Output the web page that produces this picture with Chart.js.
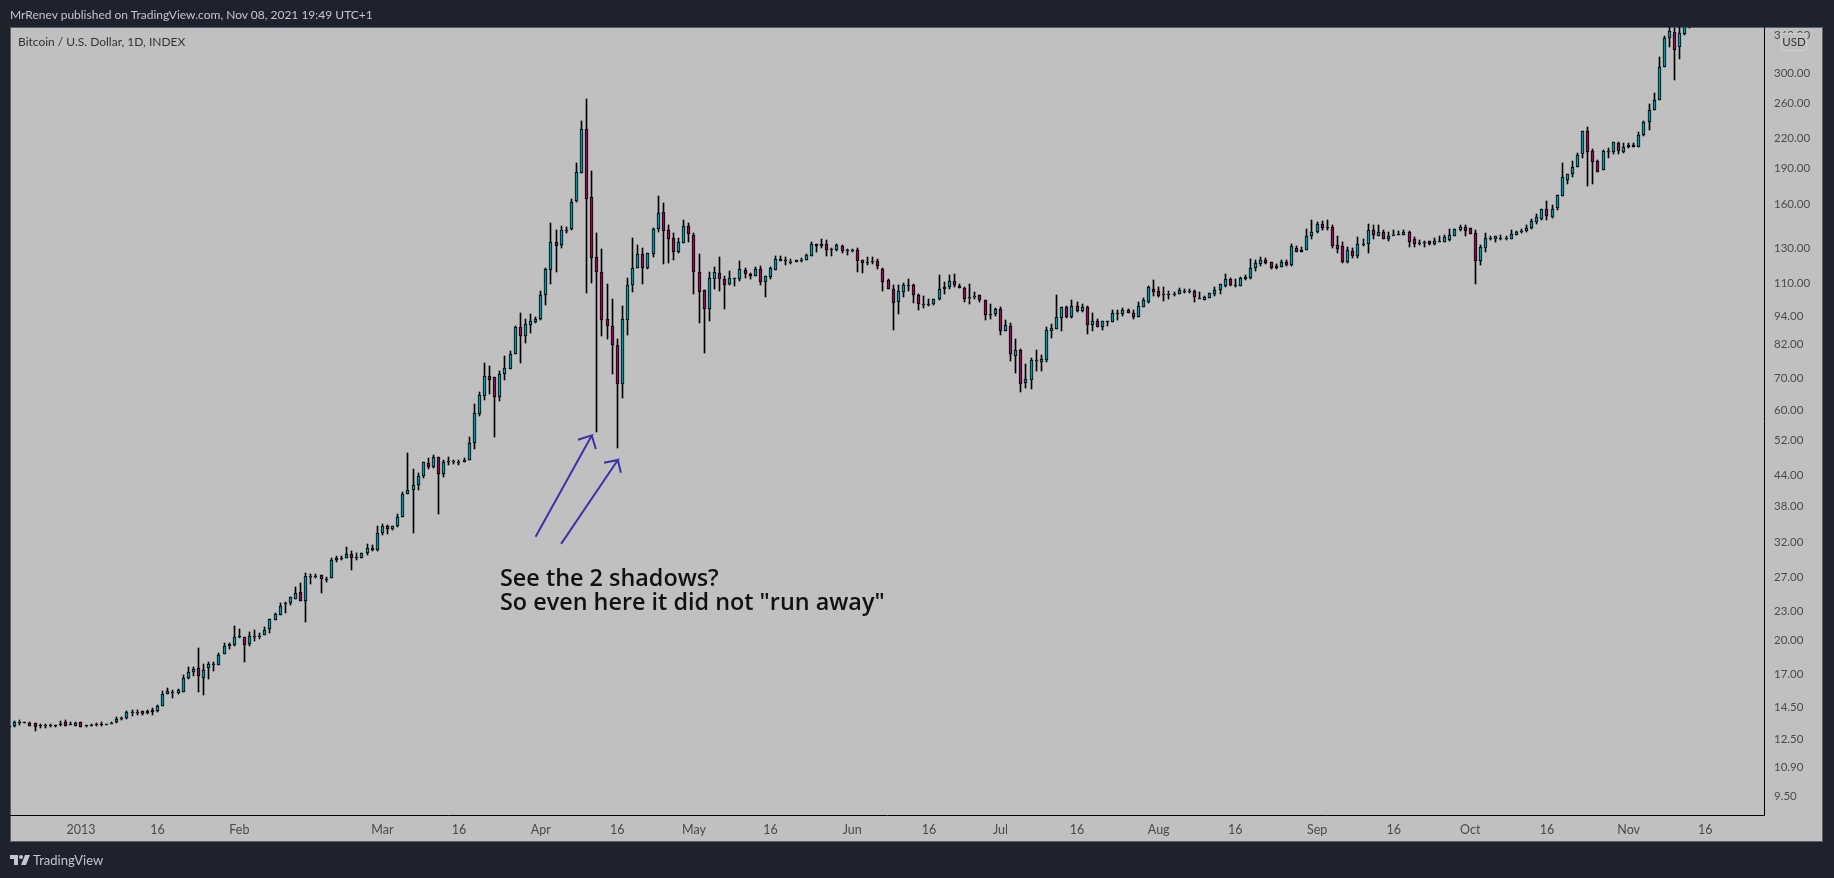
<!DOCTYPE html>
<html>
<head>
<meta charset="utf-8">
<title>Bitcoin / U.S. Dollar</title>
<script src="https://cdn.jsdelivr.net/npm/chart.js@4"></script>
<style>
  html, body { margin: 0; padding: 0; width: 1834px; height: 878px; overflow: hidden; background: #1e222d; }
  div, canvas, svg { position: absolute; }
  #panel { left: 10px; top: 27px; width: 1813px; height: 815px; box-sizing: border-box; background: #c0c0c0; border: 1px solid #5d606b; }
  #myChart { left: 0; top: 0; }
  #published { left: 10px; top: 7px; font: 12px Lato, sans-serif; color: #c3c6ce; white-space: nowrap; }
  #symbol { left: 18px; top: 34px; font: 12px Lato, sans-serif; color: #333; white-space: nowrap; }
  #usd { left: 1781px; top: 33px; width: 26px; height: 18px; box-sizing: border-box; border: 1px solid #d0d0d0; border-radius: 3px; background: #c0c0c0; font: 11.5px/16px Lato, sans-serif; color: #333; text-align: center; }
  #note { left: 500px; top: 565px; font: 600 23.4px/24px "Open Sans", sans-serif; color: #111; white-space: nowrap; }
  #brand { left: 33px; top: 852px; font: 13px Lato, sans-serif; color: #c3c6ce; white-space: nowrap; }
</style>
</head>
<body>
<div id="panel"></div>
<canvas id="myChart" width="1834" height="878"></canvas>
<div id="published">MrRenev published on TradingView.com, Nov 08, 2021 19:49 UTC+1</div>
<div id="symbol">Bitcoin / U.S. Dollar, 1D, INDEX</div>
<div id="usd">USD</div>
<div id="note">See the 2 shadows?<br>So even here it did not "run away"</div>
<svg style="left:10px;top:855px" width="20" height="11" viewBox="0 0 20 11"><path fill="#c3c6ce" d="M0 0h8v10H4V4H0zM11 0a2 2 0 1 1 0 4 2 2 0 0 1 0-4zM15 0h5l-4 10h-5z"/></svg>
<div id="brand">TradingView</div>
<script>
// one candle per row position
const opens = [
  13.2,13.26,13.52,13.52,13.47,13.46,13.35,13.37,13.36,13.35,
  13.42,13.52,13.42,13.32,13.52,13.33,13.35,13.42,13.42,13.4,
  13.45,13.52,13.8,13.78,14.18,14.2,14.25,14.12,14.34,14.25,
  14.65,15.5,15.6,15.55,15.65,16.72,17.2,17.55,16.7,17.5,
  17.82,17.78,18.75,19.45,19.6,20.45,20.3,19.65,20.42,20.42,
  20.55,21.1,22.05,22.6,23.9,23.9,24.4,25.2,24.1,27.1,
  27.1,27.3,26.85,26.95,29.35,29.6,29.6,30.2,29.72,29.7,
  30.3,31.05,30.85,33.4,34.5,34.05,34.45,36.05,40.2,40.9,
  41.95,43.9,46.55,45.85,48.1,44.15,46.85,46.9,46.85,46.75,
  47.2,51.25,59.05,64.3,70.6,70.25,64,71.2,73.2,78.3,
  89.2,85.7,90.2,91.6,92.8,103.8,117.3,134,132.2,141.8,
  142.2,163.1,186,229.3,166,124.5,116.2,92.7,89.7,82.1,
  68,92.4,109,118.2,126.3,118.1,126.6,142.7,154.3,141.6,
  136.3,127.4,133.4,144.2,138.3,116,106.3,97.4,112.4,115.3,
  112,109.4,112.3,112.3,117,115.2,113.9,117.5,110.8,113.5,
  117.4,122.5,122.8,121.8,121.5,122.9,123.1,125.4,132.7,131.3,
  132.7,129.1,128.6,131.6,128.7,128.7,129,122.7,121.8,122.3,
  122.3,117.7,111.5,107.2,100.8,105.4,108.6,109,104,99.7,
  99.7,99.6,101.8,107,107.9,111.1,108.5,107.7,103,103.6,
  104,101.6,94.9,94.8,97.1,87.7,89.6,77.8,79.9,68.4,
  69.4,76,75.7,76.4,87.7,88.5,93.3,98.2,93.8,98.5,
  96.5,98.1,89.9,91.8,89.4,91.7,91.3,95.4,94.9,96.8,
  95.6,93.7,98.3,100.7,106.8,106,104.3,104.6,104.6,104.6,
  106.2,106,106.2,102.5,101.6,102.6,104.5,106.5,108.5,112,
  109.1,108.8,112.5,113,118.5,120.8,122.9,121.6,118.1,119,
  121.6,119.8,130,128.9,128.7,137.6,140.3,145.7,143.7,143.7,
  131.8,131.2,122,128.3,125.5,132.4,132.4,141.6,138.1,140.3,
  136.1,138.3,138.3,138.7,140.5,135.6,133.5,133.9,134.3,132.6,
  134.3,134.1,135.2,138.1,142,143.7,143.2,139.8,122.5,130.4,
  136.5,135.9,136.3,136.5,136.1,138.7,140.3,141,143,147.5,
  149.3,156.9,151,157.7,167.1,180,185.5,191.8,203.6,227.1,
  206.5,196.8,189.1,206.3,205.5,214.5,205.5,210.4,212.4,211,
  223.1,237.1,251.1,263.3,308.3,354,364.3,339.1,361.9,400
];
const highs = [
  13.3,13.62,13.68,13.54,13.52,13.5,13.41,13.41,13.39,13.38,
  13.62,13.67,13.55,13.54,13.56,13.37,13.4,13.46,13.55,13.44,
  13.55,13.87,13.85,14.3,14.33,14.33,14.3,14.35,14.46,14.7,
  15.7,15.95,15.8,15.88,16.95,17.6,17.6,19.25,17.85,18,
  18,18.85,19.75,19.75,21.4,21.1,20.35,20.85,21,20.7,
  21.3,22.15,22.75,23.95,24.05,24.6,25.85,26.35,27.55,27.4,
  27.45,27.3,27.05,29.65,29.85,29.9,31.25,30.6,30.35,30.3,
  31.7,31.5,34.5,34.9,34.7,34.5,36.55,40.55,48.9,45.3,
  44.45,46.75,47.75,48.45,48.1,47.3,48,47.3,47.3,47.75,
  52.8,61.9,65.6,75.3,74.1,70.25,72.4,77.7,79.7,89.7,
  95.4,92.8,95,93.7,106,118.3,146.3,141.8,144.7,143.8,
  164.2,195,238.6,265,187.7,139.6,129.5,109.6,102,84.3,
  98.8,113,136.5,132,130.2,127.2,143.5,166.6,161.7,145,
  139.6,136.5,148.7,146.3,140,126.3,106.3,116,119,124.5,
  113.8,116.4,113,122.3,118.1,115.4,118.7,119.3,113.7,118.8,
  125.4,125.4,124.8,123.4,122.6,123.9,126.4,133.7,132.7,135.6,
  134.9,130,132.4,132.2,129.6,129.6,130,122.7,124.7,124.5,
  123.4,118.2,112.4,109,108.9,110,112,109.8,104.5,103.6,
  101.9,102.1,114.3,110.7,114.2,115,109.5,108,109.6,105.5,
  104,101.6,99.5,97.8,98.1,92.3,91,84.3,80.4,74.7,
  77,80,78.1,89.4,90.7,104,98.1,98.7,101.5,100.6,
  99.8,98.5,95.5,92.7,91.8,91.8,97,96.8,97.8,97.3,
  96.8,100.6,102.4,108.3,111.7,108.1,108.1,105.8,105.6,107.5,
  107.2,106.9,106.5,105.3,103.4,105,107.9,109.4,115,113,
  112.2,113.5,114.4,123.5,122.9,124.5,124.1,121.6,120.8,122.9,
  122.9,132.6,131.4,130.6,142.5,148.7,147.2,147.8,148.5,145.2,
  137.8,133.7,130.6,130,137,135.6,146,144.9,145.2,141.6,
  140.3,141.6,141.2,141.6,141.2,137,135.2,134.3,134.3,136.5,
  137.6,138.3,142.5,142.5,145,145,143.2,141.8,131.8,139.6,
  137.8,137.6,138.5,137.6,141.6,140.9,142.5,145,149.5,153.4,
  157,162.6,159.8,167.9,194.9,185.5,196.8,204.5,227.1,232.4,
  208.4,197.7,207.4,209.4,215.5,215.5,214.5,214.5,214.5,226,
  238.2,258.4,272.3,323.3,357.4,385,371.3,385,395,440
];
const lows = [
  13.15,13.2,13.36,13.46,13.3,13,13.18,13.14,13.2,13.25,
  13.3,13.26,13.38,13.3,13.2,13.22,13.27,13.27,13.3,13.38,
  13.4,13.5,13.7,13.72,13.95,14,14,14.1,13.98,14.2,
  14.6,15.45,15.2,15.5,15.62,16.6,16.85,15.6,15.4,16.6,
  17.25,17.78,18.75,19.15,19.5,20.25,18,19.45,19.9,20.15,
  20.5,20.75,22.05,22.6,22.75,23.7,24.35,24.1,21.8,26.15,
  26.95,25.05,26.4,26.95,29.05,29.3,29.6,28.05,29.3,29.6,
  30.1,30.7,30.6,33,33.2,33.8,34.35,36.05,40.15,33.4,
  41,43.5,45.4,45.6,36.6,43.7,46.1,46.5,46.25,46.75,
  47.2,49.9,58.4,63.1,64.8,52.7,62.7,69.4,73.2,78.3,
  75,82.8,86.8,91.1,92.3,99,109.7,116.3,130,139.6,
  142,162.3,185.8,105.2,110.2,54.1,85.6,84.4,71.3,50,
  63.5,85.9,105.6,118.2,109.7,118,124.6,140.5,120.4,121,
  122.9,127.2,133,133.9,104.3,91,79,92,107.2,106.2,
  97.4,109.1,108.8,111.2,112.9,112.2,113.6,109.2,103.2,112,
  116.9,122.5,120,120.5,121.5,122,123.1,125.4,127.6,130.1,
  125,125.4,128.1,127.1,126,127.8,115.9,115.7,119.9,120.5,
  117.9,106.1,107,88.1,95.1,103.2,106.1,100.2,96.8,97.5,
  98.9,99.3,101.4,104.3,107.2,107.9,107.6,100.8,99.8,101.8,
  100.5,92.3,92.8,94.1,86.1,87.7,75.8,71.8,65.6,66.8,
  66.5,72.4,72.4,75.5,84.8,88.2,87.7,93,93.2,96,
  96,86.2,87.7,89.1,88,89.6,91.3,92.5,94,95.5,
  92.8,93.7,98.3,100.3,103.6,103,101.2,102.1,103.6,104.6,
  105.2,105.1,100.7,101.8,101.5,102.5,103.7,104.5,108.2,108.5,
  108,108.4,111.7,112,116.7,119.6,120.6,117.7,117.7,118.8,
  119.6,119.6,127.7,127.9,128.7,136.1,139.8,141.8,141.8,130,
  127.3,121.4,121.4,124.1,124.3,131.4,127.3,135.9,137.8,135.9,
  134.8,138.3,138.3,138.5,131,131,132.2,131,132.2,132.2,
  134.1,133.9,134.8,137.8,141.4,138.1,139.2,109.8,120,127.9,
  135.2,134.1,135.4,135.4,135.9,138.5,139.5,140.2,142.5,146,
  148.8,148.7,150,156.2,167.1,176.9,182.7,191.8,200.2,175.3,
  176.9,187.3,189.1,200.2,204.1,204.1,205.1,210.2,211,211,
  222.3,228.9,251.1,263.3,308.3,339.1,290.6,321.2,359.2,372.5
];
const closes = [
  13.28,13.55,13.55,13.5,13.32,13.24,13.32,13.34,13.33,13.34,
  13.4,13.3,13.4,13.5,13.25,13.3,13.33,13.38,13.4,13.42,
  13.5,13.73,13.82,14.2,14.2,14.2,14.08,14.28,14.2,14.65,
  15.45,15.7,15.6,15.75,16.75,17.2,17.48,16.85,17.4,17.9,
  17.85,18.65,19.45,19.65,20.35,20.42,19.55,20.45,20.45,20.45,
  21.05,22.15,22.65,23.6,23.95,24.6,25.1,24.1,27.2,27.15,
  27.15,26.75,26.85,29.35,29.65,29.65,30.2,29.7,29.78,30.3,
  31.05,30.75,33.4,34.5,34.1,34.45,36.05,40.2,40.95,41.95,
  43.9,46.75,45.85,48.1,44.15,46.75,47,47,46.85,47.2,
  51.3,59.1,64.4,70.6,69.4,64,71.3,73.3,78.4,89.2,
  85.7,90.5,91.7,92.6,103.9,117.7,134,131.5,141.6,141.8,
  161.9,186.6,229.3,164.2,124.3,116.1,92.5,89.5,82,68,
  92.6,108.9,118.2,126.3,118.5,127,142.6,153.5,140.9,136,
  127.4,133.6,144.2,138.9,115.8,105.6,97.4,112.6,115.9,112,
  109.2,112.6,112.9,117.5,115,113.7,117.5,110.8,113.7,118.2,
  123.2,123.5,122.6,121.8,122.6,123,125.6,132.4,131.3,132.7,
  129.2,129.3,131.8,128,128.7,128.7,122.5,120.9,121.8,122.3,
  119.5,110.5,107,99.9,105.8,109.2,108.9,104,99.5,99.7,
  99.7,102.1,107.1,108.2,111.1,108.9,107.7,101.8,103,103.6,
  101.4,94.6,94.9,97.3,87.7,90.1,78.6,79.9,68,69.5,
  76.2,76.1,76.6,87.9,88.9,93.5,98.1,93.7,98.5,96.5,
  98.1,89.9,91.8,89.4,91.8,91.3,95.5,95.4,96.8,95.5,
  93.7,98.5,101.4,107.9,105.5,103.4,104.3,104.6,104.6,106.5,
  106.2,106,102.9,102.5,103,104.8,106.5,109.4,112,109.2,
  109.1,112.8,113.3,118.1,121,122.7,121.4,118.1,119.2,121.6,
  119.8,131.2,127.9,127.9,137.6,140.3,145.7,143.4,143.7,131.6,
  129.8,121.6,128.7,125.5,132.4,132.4,141.6,138.7,140.3,136.1,
  137.6,138.7,139,140.5,134.1,132.8,133.5,133.9,132.8,134.3,
  134.3,137.2,138.3,142.5,143.9,141.4,139.4,122.5,130.6,136.3,
  136.5,137.6,136.3,136.5,138.9,140.3,141,143,148,150.8,
  156.9,151.7,156.9,167.9,182.4,185.5,191.8,202.6,227.1,206.1,
  196.4,187.3,206.5,206.5,215.5,207,210.4,212.4,211,222.8,
  237.1,251.1,263.3,308.3,354,366,335.3,362.6,385,420
];

const priceTicks = [9.5,10.9,12.5,14.5,17,20,23,27,32,38,44,52,60,70,82,94,110,130,160,190,220,260,300,360];
const dateTickBars = [14,29,45,73,88,104,119,134,149,165,180,194,209,225,240,256,271,286,301,317,332];
const dateTickLabels = ["2013","16","Feb","Mar","16","Apr","16","May","16","Jun","16","Jul","16","Aug","16","Sep","16","Oct","16","Nov","16"];

// the two hand drawn arrows: tail, tip, head, tip, head (bar index, price)
const arrowOneBars = [103,114,111.3,114,114.8];
const arrowOnePrices = [32.8,53.2,52.1,53.2,49.85];
const arrowTwoBars = [108,119.1,116.4,119.1,119.7];
const arrowTwoPrices = [31.7,47.3,46.7,47.3,44.5];

const UP = "#0097a7";
const DOWN = "#880e4f";
const ARROW = "#3c32a5";

const wicks = lows.map((low, i) => ({ x: i, y: [low, highs[i]] }));
const bodies = opens.map((open, i) => ({ x: i, y: [open, closes[i]] }));
const bodyColors = opens.map((open, i) => (closes[i] >= open ? UP : DOWN));
const arrowData = (bars, prices) => bars.map((x, i) => ({ x: x, y: prices[i] }));

// keeps wicks and bodies on whole pixels so they stay sharp
const snapBars = {
  id: "snapBars",
  beforeDatasetsDraw(chart) {
    chart.data.datasets.forEach((ds, i) => {
      if (ds.type === "line") return;
      chart.getDatasetMeta(i).data.forEach((bar) => {
        bar.x = Math.round(bar.x - 0.5) + 0.5;
        bar.y = Math.round(bar.y);
        bar.base = Math.round(bar.base);
        if (bar.base === bar.y) bar.base = bar.y + 1;
      });
    });
  },
};

const config = {
  type: "bar",
  data: {
    datasets: [
      { type: "line", data: arrowData(arrowOneBars, arrowOnePrices), borderColor: ARROW, borderWidth: 2, pointRadius: 0, tension: 0, order: 0 },
      { type: "line", data: arrowData(arrowTwoBars, arrowTwoPrices), borderColor: ARROW, borderWidth: 2, pointRadius: 0, tension: 0, order: 0 },
      { data: bodies, backgroundColor: bodyColors, borderColor: "#000", borderWidth: 1, borderSkipped: false, barThickness: 3, grouped: false, order: 1 },
      { data: wicks, backgroundColor: "#000", borderWidth: 0, barThickness: 1, grouped: false, order: 2 },
    ],
  },
  options: {
    responsive: false,
    animation: false,
    devicePixelRatio: 1,
    layout: { padding: { left: 10, top: 27, right: 11, bottom: 36 } },
    plugins: { legend: { display: false }, tooltip: { enabled: false } },
    scales: {
      x: {
        type: "linear",
        offset: false,
        min: 0.1,
        max: 343.5,
        afterBuildTicks(axis) { axis.ticks = dateTickBars.map((value) => ({ value })); },
        afterFit(axis) { axis.height = 27; },
        grid: { drawOnChartArea: false, drawTicks: false },
        border: { color: "#000" },
        ticks: {
          autoSkip: false,
          maxRotation: 0,
          padding: 7,
          color: "#4a4a4a",
          font: { family: "Lato", size: 12.5 },
          callback: (value, index) => dateTickLabels[index],
        },
      },
      y: {
        type: "logarithmic",
        position: "right",
        min: 8.69,
        max: 373.7,
        afterBuildTicks(axis) { axis.ticks = priceTicks.map((value) => ({ value })); },
        afterFit(axis) { axis.width = 59; },
        grid: { drawOnChartArea: false, drawTicks: false },
        border: { color: "#000" },
        ticks: {
          autoSkip: false,
          padding: 10,
          color: "#4a4a4a",
          font: { family: "Lato", size: 11.5 },
          callback: (value) => Number(value).toFixed(2),
        },
      },
    },
  },
  plugins: [snapBars],
};

var myChart = new Chart(document.getElementById("myChart"), config);
</script>
</body>
</html>
